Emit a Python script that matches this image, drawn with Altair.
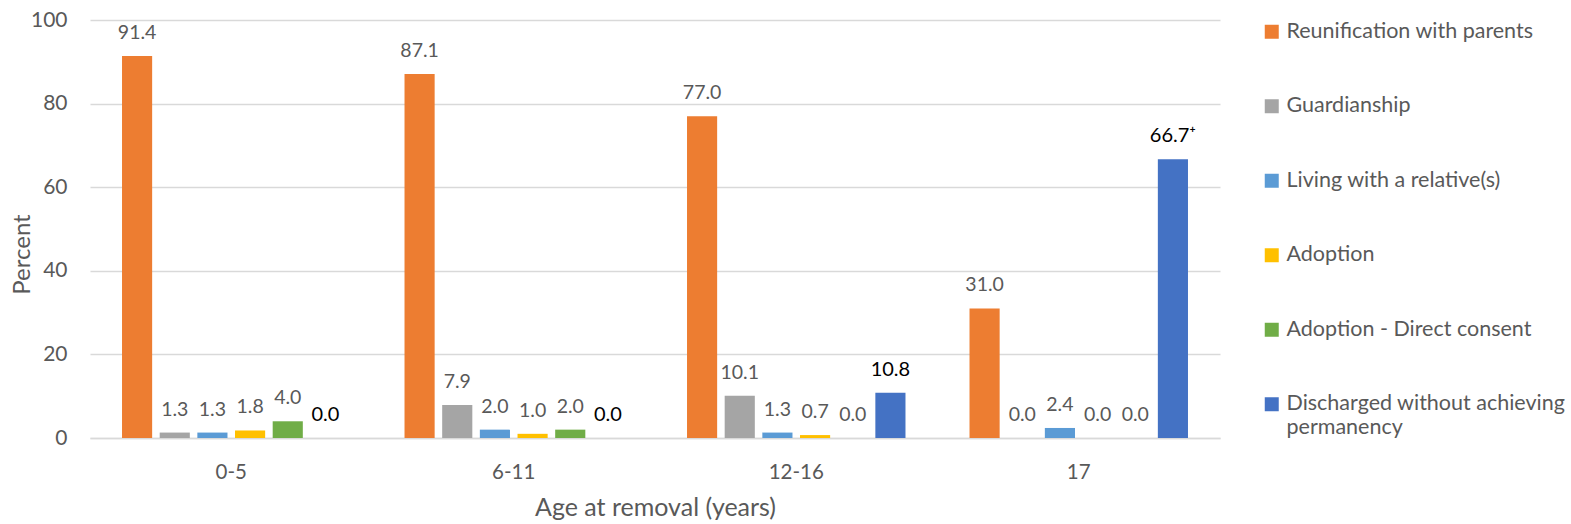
import altair as alt
import pandas as pd

ages = ["0-5", "6-11", "12-16", "17"]
series = [
    "Reunification with parents",
    "Guardianship",
    "Living with a relative(s)",
    "Adoption",
    "Adoption - Direct consent",
    "Discharged without achieving permanency",
]
colors = ["#ED7D31", "#A5A5A5", "#5B9BD5", "#FFC000", "#70AD47", "#4472C4"]

# percent of exits per age group, one list per series (same order as `ages`)
reunification = [91.4, 87.1, 77.0, 31.0]
guardianship = [1.3, 7.9, 10.1, 0.0]
relative = [1.3, 2.0, 1.3, 2.4]
adoption = [1.8, 1.0, 0.7, 0.0]
adoption_direct = [4.0, 2.0, 0.0, 0.0]
discharged = [0.0, 0.0, 10.8, 66.7]
# footnote markers appended to the value labels
discharged_notes = ["", "", "", "\u207a"]

values = [reunification, guardianship, relative, adoption, adoption_direct, discharged]
rows = []
for s, vals in zip(series, values):
    for i, (age, v) in enumerate(zip(ages, vals)):
        note = discharged_notes[i] if s == series[-1] else ""
        rows.append({"age": age, "series": s, "pct": v, "label": f"{v:.1f}{note}"})
df = pd.DataFrame(rows)

FONT = "Lato"
GREY = "#595959"

x = alt.X("age:N", sort=ages, scale=alt.Scale(paddingInner=0, paddingOuter=0),
          axis=alt.Axis(title="Age at removal (years)", labelAngle=0, labelFontSize=20.5,
                        labelColor=GREY, labelPadding=24, ticks=False, domainColor="#D9D9D9",
                        domainWidth=1.5, titleFontSize=25, titleColor=GREY,
                        titleFontWeight="normal", titleY=69, titleBaseline="middle"))
xo = alt.XOffset("series:N", sort=series,
                 scale=alt.Scale(paddingInner=0.2, paddingOuter=0.85))
y = alt.Y("pct:Q", scale=alt.Scale(domain=[0, 100], nice=False),
          axis=alt.Axis(title="Percent", values=[0, 20, 40, 60, 80, 100], labelFontSize=21,
                        labelColor=GREY, labelPadding=23, ticks=False, tickSize=0, domain=False,
                        gridColor="#D9D9D9", gridWidth=1.5, titleFontSize=24, titleColor=GREY,
                        titleFontWeight="normal", titleX=-68, titleY=234,
                        titleBaseline="middle", titleAlign="center"))

legend = alt.Legend(
    title=None, orient="none", legendX=1171, legendY=1, symbolType="square",
    symbolSize=196, symbolStrokeWidth=0, labelFontSize=21.5, labelColor=GREY, labelFont=FONT,
    labelOffset=4, rowPadding=51.5, labelLimit=400,
    labelExpr="datum.label == 'Discharged without achieving permanency' ? "
              "['Discharged without achieving', 'permanency'] : datum.label",
)

bars = alt.Chart(df).mark_bar().encode(
    x=x, xOffset=xo, y=y,
    color=alt.Color("series:N", sort=series,
                    scale=alt.Scale(domain=series, range=colors), legend=legend),
)

is_discharged = f"datum.series == '{series[-1]}'"
labels = alt.Chart(df).mark_text(baseline="alphabetic", dy=-17, font=FONT).encode(
    x=x, xOffset=xo, y=y,
    text="label:N",
    color=alt.condition(is_discharged, alt.value("#000000"), alt.value(GREY)),
    size=alt.condition(is_discharged, alt.value(20), alt.value(19.5)),
)

chart = (
    alt.layer(bars, labels)
    .properties(width=1130, height=418,
                autosize=alt.AutoSizeParams(type="none"),
                padding={"left": 90, "top": 20, "right": 351, "bottom": 86})
    .configure(font=FONT)
    .configure_view(stroke=None)
)

chart.save("out.html", embed_options={"renderer": "svg", "actions": False})
